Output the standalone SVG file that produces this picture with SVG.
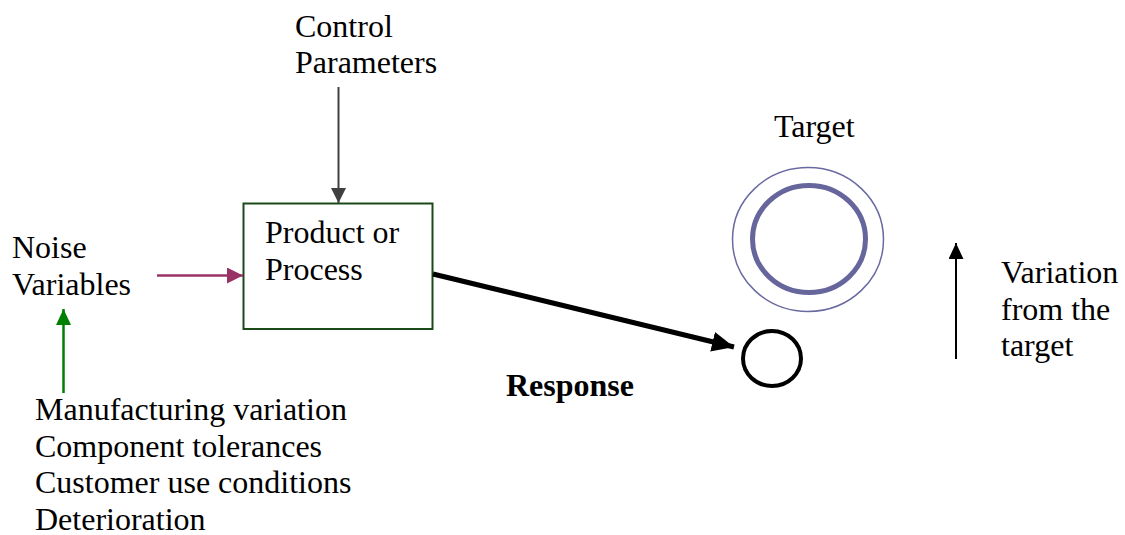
<svg xmlns="http://www.w3.org/2000/svg" width="1125" height="535" viewBox="0 0 1125 535">
  <style>
    text { font-family: "Liberation Serif", "Times New Roman", serif; font-size: 32px; fill: #000; }
    .bold { font-weight: bold; }
    .box { fill: #fff; stroke: #1a4a1a; stroke-width: 2; }
    .ring-outer { fill: none; stroke: #6a6aa0; stroke-width: 1.5; }
    .ring-inner { fill: none; stroke: #66669c; stroke-width: 5; }
    .response-dot { fill: none; stroke: #000; stroke-width: 4; }
  </style>
  <defs>
    <marker id="head-grey" markerUnits="userSpaceOnUse" markerWidth="15" markerHeight="15" refX="15" refY="7.5" orient="auto">
      <path d="M0,0 L15,7.5 L0,15 z" fill="#404040"/>
    </marker>
    <marker id="head-plum" markerUnits="userSpaceOnUse" markerWidth="16" markerHeight="16" refX="16" refY="8" orient="auto">
      <path d="M0,0 L16,8 L0,16 z" fill="#993366"/>
    </marker>
    <marker id="head-green" markerUnits="userSpaceOnUse" markerWidth="16" markerHeight="15" refX="16" refY="7.5" orient="auto">
      <path d="M0,0 L16,7.5 L0,15 z" fill="#008000"/>
    </marker>
    <marker id="head-black" markerUnits="userSpaceOnUse" markerWidth="16" markerHeight="15" refX="16" refY="7.5" orient="auto">
      <path d="M0,0 L16,7.5 L0,15 z" fill="#000"/>
    </marker>
    <marker id="head-bold" markerUnits="userSpaceOnUse" markerWidth="22" markerHeight="20" refX="22" refY="10" orient="auto">
      <path d="M0,0 L22,10 L0,20 z" fill="#000"/>
    </marker>
  </defs>

  <g id="control-parameters">
    <text x="295" y="37">Control</text>
    <text x="295" y="73">Parameters</text>
  </g>

  <g id="noise-variables">
    <text x="12" y="258">Noise</text>
    <text x="12" y="295">Variables</text>
  </g>

  <g id="product-process">
    <rect class="box" x="243.5" y="203.5" width="189" height="125.5"/>
    <text x="265" y="243">Product or</text>
    <text x="265" y="280">Process</text>
  </g>

  <g id="noise-sources">
    <text x="35" y="420">Manufacturing variation</text>
    <text x="35" y="457">Component tolerances</text>
    <text x="35" y="493">Customer use conditions</text>
    <text x="35" y="530">Deterioration</text>
  </g>

  <g id="target">
    <text x="774" y="137">Target</text>
    <ellipse class="ring-outer" cx="808" cy="239.5" rx="75.5" ry="72"/>
    <ellipse class="ring-inner" cx="809" cy="239" rx="56.5" ry="53.5"/>
  </g>

  <g id="response">
    <ellipse class="response-dot" cx="772" cy="358.5" rx="29" ry="27.5"/>
    <text class="bold" x="506" y="396">Response</text>
  </g>

  <g id="variation-label">
    <text x="1001" y="283">Variation</text>
    <text x="1001" y="320">from the</text>
    <text x="1001" y="356">target</text>
  </g>

  <g id="connectors" fill="none">
    <line x1="338.5" y1="87" x2="338.5" y2="203" stroke="#404040" stroke-width="2" marker-end="url(#head-grey)"/>
    <line x1="157" y1="275.5" x2="243" y2="275.5" stroke="#993366" stroke-width="2.5" marker-end="url(#head-plum)"/>
    <line x1="63.5" y1="393" x2="63.5" y2="309" stroke="#008000" stroke-width="2.5" marker-end="url(#head-green)"/>
    <line x1="433" y1="274" x2="734" y2="347" stroke="#000" stroke-width="5" marker-end="url(#head-bold)"/>
    <line x1="956" y1="359" x2="956" y2="243" stroke="#000" stroke-width="2" marker-end="url(#head-black)"/>
  </g>
</svg>
